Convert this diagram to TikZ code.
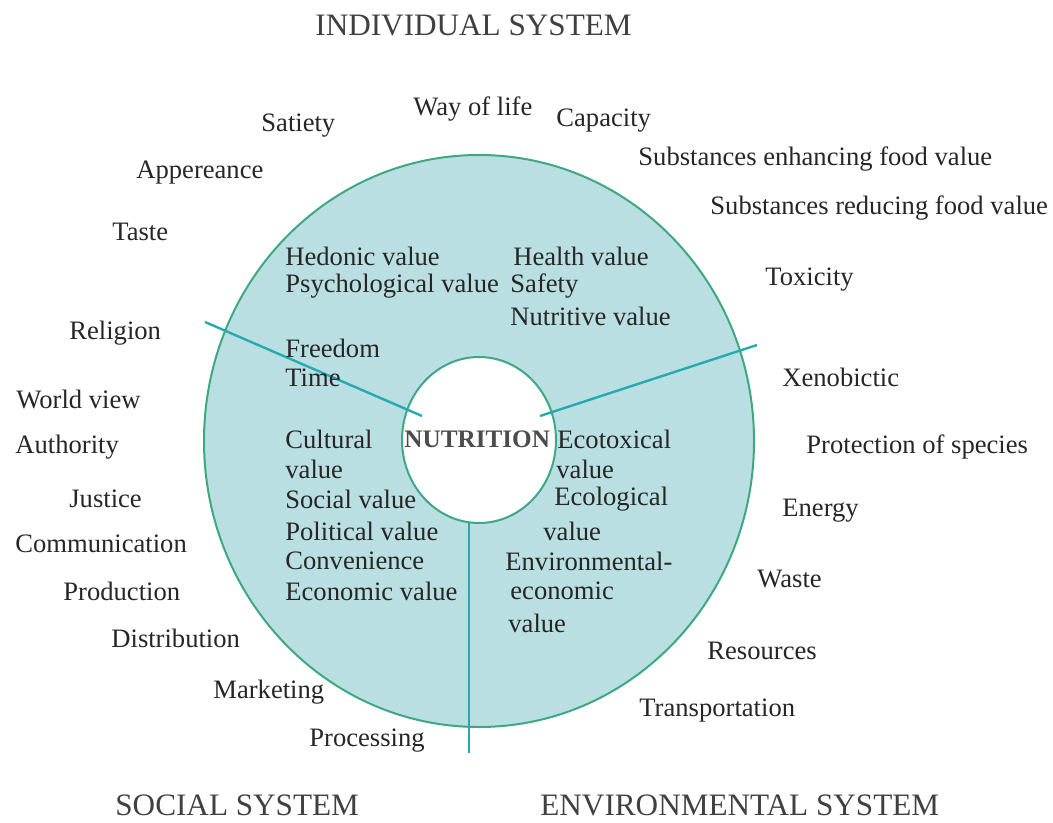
\documentclass[tikz,border=0pt]{standalone}
\usepackage{fontspec}
\setmainfont{Liberation Serif}
\usepackage{tikz}

\definecolor{ringfill}{RGB}{185,223,226}
\definecolor{ringline}{RGB}{62,168,128}
\definecolor{spoke}{RGB}{38,170,176}
\tikzset{
  lbl/.style={anchor=west, inner sep=0pt, font=\fontsize{13.3}{15}\selectfont, text=black!85},
  sysname/.style={anchor=west, inner sep=0pt, font=\fontsize{15.6}{17}\selectfont, text=black!75},
  hub/.style={anchor=west, inner sep=0pt, font=\fontsize{12.6}{15}\selectfont\bfseries, text=black!70}
}

\begin{document}
\begin{tikzpicture}[x=0.5pt,y=0.5pt,yscale=-1,xscale=1]
\useasboundingbox (0,0) rectangle (1053,823);

%Shape: Ellipse [id:outer ring]
\draw [ringline, fill=ringfill, line width=1pt] (479,441) ellipse (275 and 286);
%Shape: Ellipse [id:inner hole]
\draw [ringline, fill=white, line width=1pt] (479,440) ellipse (77 and 83);

% Spoke ends
\coordinate (spokeLa) at (205,322);
\coordinate (spokeLb) at (422,416);
\coordinate (spokeRa) at (757,345);
\coordinate (spokeRb) at (540,416);
\coordinate (spokeBa) at (469,523);
\coordinate (spokeBb) at (469,753);

%Straight Lines [id:spokes]
\draw [spoke, line width=1.2pt] (spokeLa) -- (spokeLb) ;
\draw [spoke, line width=1.2pt] (spokeRa) -- (spokeRb) ;
\draw [spoke, line width=1.2pt] (spokeBa) -- (spokeBb) ;

% Text Node
\node [sysname] (indSys) at (315,25) {INDIVIDUAL SYSTEM};
% Text Node
\node [sysname] (socSys) at (115,805) {SOCIAL SYSTEM};
% Text Node
\node [sysname] (envSys) at (540,805) {ENVIRONMENTAL SYSTEM};

% Text Node
\node [lbl] (wayLife) at (413,109) {Way of life};
\node [lbl] (satiety) at (261,126) {Satiety};
\node [lbl] (capacity) at (556,121) {Capacity};
\node [lbl] (appear) at (136,173) {Appereance};
\node [lbl] (subEnh) at (638,159) {Substances enhancing food value};
\node [lbl] (subRed) at (710,208) {Substances reducing food value};
\node [lbl] (taste) at (112,232) {Taste};
\node [lbl] (toxic) at (765,280) {Toxicity};
\node [lbl] (religion) at (69,333) {Religion};
\node [lbl] (xeno) at (782,377) {Xenobictic};
\node [lbl] (worldView) at (16,399) {World view};
\node [lbl] (authority) at (15,447) {Authority};
\node [lbl] (protSpec) at (806,447) {Protection of species};
\node [lbl] (justice) at (69,499) {Justice};
\node [lbl] (energy) at (782,511) {Energy};
\node [lbl] (commun) at (15,544) {Communication};
\node [lbl] (waste) at (757,579) {Waste};
\node [lbl] (product) at (63,591) {Production};
\node [lbl] (distrib) at (111,638) {Distribution};
\node [lbl] (resource) at (707,651) {Resources};
\node [lbl] (market) at (213,692) {Marketing};
\node [lbl] (transport) at (639,711) {Transportation};
\node [lbl] (process) at (309,741) {Processing};

% Text Node
\node [lbl] (hedonic) at (285,256) {Hedonic value};
\node [lbl] (psycho) at (285,286) {Psychological value};
\node [lbl] (health) at (513,256) {Health value};
\node [lbl] (safety) at (510,286) {Safety};
\node [lbl] (nutritive) at (510,316) {Nutritive value};
\node [lbl] (freedom) at (285,348) {Freedom};
\node [lbl] (time) at (285,378) {Time};
\node [lbl] (cultural) at (285,439) {Cultural};
\node [lbl] (culturalB) at (285,469) {value};
\node [lbl] (social) at (285,499) {Social value};
\node [lbl] (political) at (285,531) {Political value};
\node [lbl] (conven) at (285,561) {Convenience};
\node [lbl] (economic) at (285,591) {Economic value};

% Text Node
\node [hub] (nutrition) at (404,439) {NUTRITION};

% Text Node
\node [lbl] (ecotox) at (557,439) {Ecotoxical};
\node [lbl] (ecotoxB) at (556,469) {value};
\node [lbl] (ecolog) at (554,499) {Ecological};
\node [lbl] (ecologB) at (543,531) {value};
\node [lbl] (envEcon) at (505,561) {Environmental-};
\node [lbl] (envEconB) at (510,591) {economic};
\node [lbl] (envEconC) at (508,623) {value};

\end{tikzpicture}
\end{document}
